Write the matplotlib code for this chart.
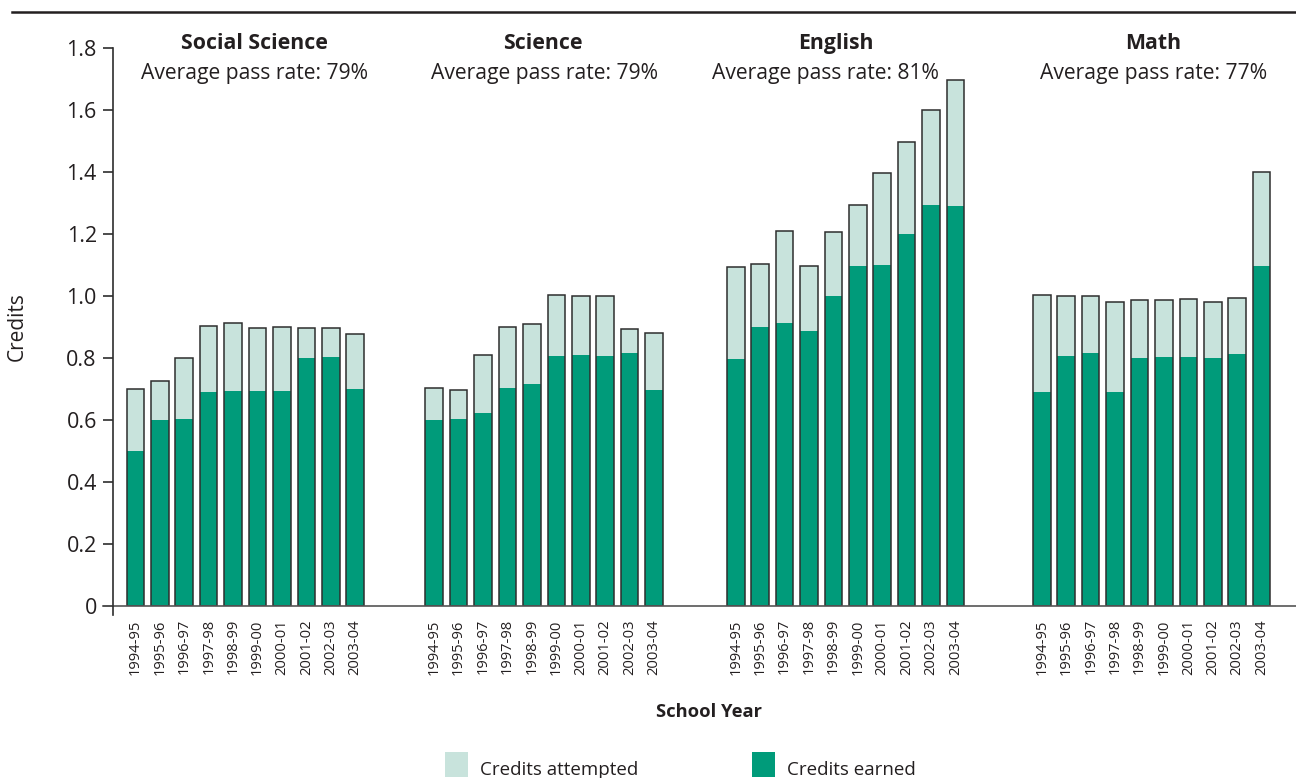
import matplotlib
matplotlib.use("Agg")
import matplotlib.pyplot as plt
from matplotlib.patches import Rectangle
from matplotlib.lines import Line2D
import numpy as np

plt.rcParams['font.family'] = ['Open Sans', 'DejaVu Sans']

subjects = ["Social Science", "Science", "English", "Math"]
pass_rates = ["79%", "79%", "81%", "77%"]
years = ["1994-95", "1995-96", "1996-97", "1997-98", "1998-99",
         "1999-00", "2000-01", "2001-02", "2002-03", "2003-04"]

attempted = {
    "Social Science": [0.70, 0.727, 0.80, 0.904, 0.913, 0.897, 0.90, 0.897, 0.897, 0.878],
    "Science":        [0.702, 0.697, 0.809, 0.899, 0.910, 1.002, 1.0, 1.0, 0.895, 0.882],
    "English":        [1.094, 1.103, 1.209, 1.097, 1.206, 1.295, 1.397, 1.496, 1.601, 1.698],
    "Math":           [1.002, 1.0, 1.0, 0.982, 0.988, 0.988, 0.990, 0.980, 0.995, 1.40],
}
earned = {
    "Social Science": [0.50, 0.60, 0.603, 0.69, 0.694, 0.694, 0.694, 0.80, 0.803, 0.70],
    "Science":        [0.60, 0.603, 0.623, 0.703, 0.716, 0.806, 0.81, 0.806, 0.816, 0.697],
    "English":        [0.797, 0.90, 0.913, 0.887, 1.0, 1.097, 1.10, 1.20, 1.294, 1.29],
    "Math":           [0.69, 0.806, 0.816, 0.69, 0.80, 0.803, 0.803, 0.80, 0.813, 1.097],
}

LIGHT = "#c8e3dc"
DARK = "#009b7a"
EDGE = "#2e2e2e"
TXT = "#231f20"

# layout
group_start = [0.0, 12.24, 24.59, 37.13]
title_dx = [0.38, -0.04, -0.38, 0.05]
sub_dx = [0.38, 0.0, -0.83, 0.07]
bw = 0.72

fig = plt.figure(figsize=(12.96, 7.78), dpi=100)
ax = fig.add_axes([113/1296, 172/778, 1 - 113/1296, 558/778])

xt, xl = [], []
for g, subj in enumerate(subjects):
    x = group_start[g] + np.arange(len(years))
    ax.bar(x, attempted[subj], width=bw, color=LIGHT, linewidth=0, zorder=2)
    ax.bar(x, earned[subj], width=bw, color=DARK, linewidth=0, zorder=3)
    ax.bar(x, attempted[subj], width=bw, facecolor="none", edgecolor=EDGE,
           linewidth=1.1, zorder=4)
    xt.extend(x)
    xl.extend(years)
    cx = group_start[g] + (len(years) - 1) / 2
    ax.text(cx + title_dx[g], 1.813, subj, ha="center", va="center",
            fontsize=15.3, fontweight="bold", color=TXT, clip_on=False)
    ax.text(cx + sub_dx[g], 1.719, "Average pass rate: " + pass_rates[g],
            ha="center", va="center", fontsize=15.2, color=TXT, clip_on=False)

ax.set_xlim(-0.92, 47.54)
ax.set_ylim(0, 1.8)
ax.set_yticks(np.arange(0, 1.81, 0.2))
ax.set_yticklabels(["0"] + [f"{v:.1f}" for v in np.arange(0.2, 1.81, 0.2)])
ax.set_xticks(xt)
ax.set_xticklabels(xl, rotation=90, fontsize=10.6, color=TXT)
ax.tick_params(axis="x", length=0, pad=9.5)
ax.tick_params(axis="y", length=7.2, width=1.2, pad=4.5, labelsize=15.5,
               labelcolor=TXT, color=EDGE, direction="out")

for s in ["top", "right", "bottom"]:
    ax.spines[s].set_visible(False)
ax.spines["left"].set_linewidth(1.2)
ax.spines["left"].set_color(EDGE)

# extended axis lines
ax.add_line(Line2D([-10/1183, 1.0], [0, 0], transform=ax.transAxes,
                   color="#555555", linewidth=1.2, clip_on=False, zorder=5))
ax.add_line(Line2D([0, 0], [-9/558, 0], transform=ax.transAxes,
                   color=EDGE, linewidth=1.2, clip_on=False, zorder=5))

ax.set_ylabel("Credits", fontsize=15, color=TXT)
ax.yaxis.set_label_coords(-85/1183, 0.5)

fig.text(709/1296, 1 - 712/778, "School Year", ha="center", va="center",
         fontsize=13.2, fontweight="bold", color=TXT)

# top rule
fig.add_artist(Line2D([12/1296, 1.0], [1 - 12/778, 1 - 12/778],
                      color=TXT, linewidth=1.8))

# legend
leg_items = [("Credits attempted", LIGHT, 445), ("Credits earned", DARK, 752)]
for label, col, px in leg_items:
    fig.add_artist(Rectangle((px/1296, 1/778), 23/1296, 25/778,
                             transform=fig.transFigure, facecolor=col,
                             edgecolor="none"))
    fig.text((px + 35)/1296, 3/778, label, ha="left", va="baseline",
             fontsize=13.5, color=TXT)

fig.savefig("out.png", dpi=100)
